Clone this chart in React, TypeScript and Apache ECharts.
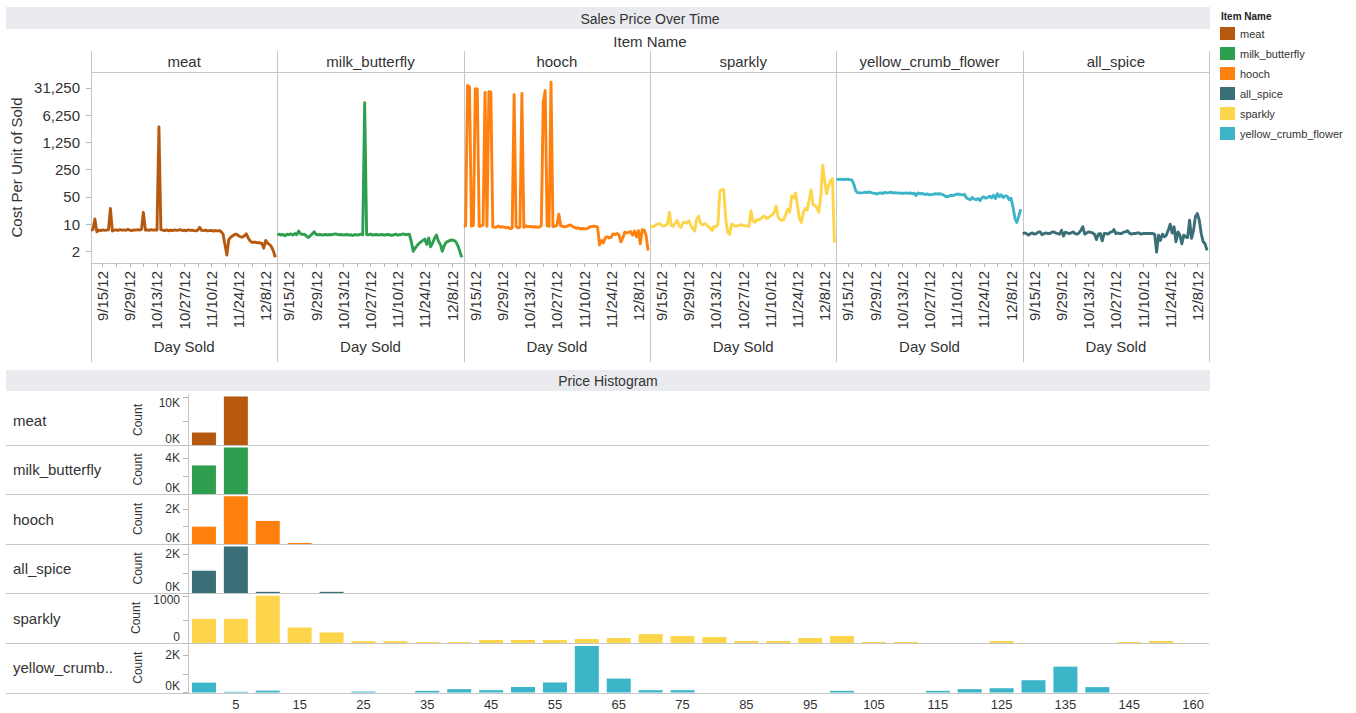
import React, { useEffect, useRef } from "react";
import * as echarts from "echarts";

// ---------------- data ----------------
const FACET_ITEMS = ["meat", "milk_butterfly", "hooch", "sparkly", "yellow_crumb_flower", "all_spice"];
const LEGEND_ITEMS = ["meat", "milk_butterfly", "hooch", "all_spice", "sparkly", "yellow_crumb_flower"];
const HIST_ITEMS = ["meat", "milk_butterfly", "hooch", "all_spice", "sparkly", "yellow_crumb_flower"];
const HIST_ROW_LABELS = ["meat", "milk_butterfly", "hooch", "all_spice", "sparkly", "yellow_crumb.."];

const COLORS: Record<string, string> = {
  meat: "#b6590f",
  milk_butterfly: "#2d9f4e",
  hooch: "#ff800e",
  all_spice: "#3b6f78",
  sparkly: "#fdd54b",
  yellow_crumb_flower: "#3cb5c9",
};

// daily values, first day 9/9/12, one value per day
const FIRST_DAY = "9/9/12";
const AXIS_FROM = "9/9/12";
const AXIS_TO = "12/14/12";

const meat = [
  7.0, 7.2, 13.5, 6.3, 7.0, 6.8, 7.1, 6.9, 7.0, 7.1,
  25, 6.6, 7.0, 7.1, 6.9, 7.2, 7.0, 7.1, 6.9, 7.3,
  7.0, 6.8, 7.1, 7.0, 7.2, 7.0, 7.3, 20, 7.0, 7.1,
  6.9, 7.2, 7.0, 7.1, 7.0, 3100, 7.2, 7.0, 6.8, 7.1,
  6.7, 7.0, 6.8, 7.1, 6.9, 7.0, 7.2, 6.8, 7.0, 6.7,
  7.1, 6.9, 7.0, 6.8, 6.7, 7.0, 8.2, 6.9, 6.8, 7.0,
  6.7, 6.8, 6.9, 6.6, 6.8, 6.7, 6.8, 6.4, 5.6, 3.0,
  1.6, 4.0, 4.6, 5.0, 5.4, 5.5, 5.0, 4.7, 4.6, 5.0,
  5.6, 4.4, 3.7, 3.4, 3.4, 3.4, 3.3, 3.3, 3.2, 2.4,
  3.8, 3.2, 3.0, 2.6, 2.0, 1.4,
];

const milkButterfly = [
  5.3, 5.5, 5.2, 5.4, 5.0, 5.5, 5.3, 5.6, 5.2, 5.7,
  5.3, 6.6, 5.6, 5.4, 5.5, 4.9, 4.5, 5.0, 5.6, 6.3,
  5.4, 5.3, 5.4, 5.2, 5.3, 5.4, 5.2, 5.4, 5.3, 5.5,
  5.6, 5.4, 5.3, 5.4, 5.2, 5.3, 5.4, 5.2, 5.3, 5.1,
  5.4, 5.2, 5.3, 5.5, 5.3, 13000, 5.4, 5.3, 5.5, 5.2,
  5.3, 5.4, 5.2, 5.3, 5.4, 5.2, 5.3, 5.4, 5.3, 5.1,
  5.3, 5.5, 5.2, 5.3, 5.4, 5.6, 5.3, 5.4, 5.5, 3.6,
  2.0, 2.4, 2.8, 3.2, 3.5, 3.8, 4.1, 3.0, 4.4, 2.6,
  3.3, 4.3, 5.2, 3.6, 3.0, 2.0, 2.8, 3.4, 3.6, 3.8,
  3.9, 3.8, 3.5, 2.8, 2.0, 1.4,
];

const hooch = [
  8.8, 9.0, 36000, 33000, 8.8, 9.2, 30000, 29000, 8.7, 9.0,
  9.5, 24000, 8.7, 25000, 24500, 8.5, 8.2, 8.4, 8.9, 8.3,
  8.5, 8.3, 8.0, 8.2, 7.6, 7.9, 21000, 8.6, 8.0, 8.4,
  22500, 8.2, 9.0, 8.6, 8.7, 8.5, 8.4, 8.5, 8.3, 8.4,
  9.0, 13500, 27000, 9.0, 8.7, 44000, 8.6, 8.8, 9.2, 18,
  9.0, 8.8, 8.5, 8.7, 9.2, 9.5, 8.8, 8.2, 7.8, 8.0,
  7.5, 7.7, 7.6, 7.5, 7.8, 8.5, 8.6, 8.8, 8.7, 8.3,
  2.9, 3.8, 3.3, 4.5, 4.7, 4.4, 4.6, 5.6, 5.4, 5.7,
  5.3, 3.5, 4.4, 6.2, 5.9, 6.1, 6.4, 5.2, 6.6, 4.7,
  6.8, 3.1, 7.2, 7.0, 5.0, 2.1,
];

const sparkly = [
  8.8, 8.5, 8.7, 9.6, 9.9, 10.2, 9.3, 8.8, 9.4, 10.0,
  20, 9.0, 8.8, 10.5, 12.5, 9.0, 8.2, 10.8, 11.0, 10.6,
  12.2, 9.2, 7.6, 6.6, 13, 16, 10.5, 9.5, 10.2, 9.8,
  8.6, 7.8, 6.8, 8.8, 8.5, 9.8, 70, 77, 76, 14,
  6.2, 5.4, 10, 9.2, 8.8, 9.0, 9.3, 9.6, 9.3, 9.0,
  8.9, 8.8, 22, 12, 11, 13, 12.8, 13.6, 15, 16,
  14, 14.5, 16, 17.5, 20, 29, 15, 13, 12.4, 13,
  18, 24, 20, 53, 47, 63, 30, 13.6, 11, 20,
  25, 23, 42, 75, 31, 30, 26, 20, 55, 320,
  130, 60, 95, 130, 145, 3.3,
];

const yellowCrumbFlower = [
  140, 140, 141, 140, 139, 140, 141, 138, 136, 105,
  72, 64, 63, 63, 64, 66, 64, 67, 64, 62,
  61, 59, 62, 63, 61, 65, 63, 64, 66, 63,
  64, 63, 62, 63, 61, 62, 63, 61, 63, 60,
  62, 54, 63, 60, 61, 59, 58, 59, 56, 57,
  58, 60, 59, 60, 59, 57, 52, 50, 52, 55,
  54, 56, 58, 59, 57, 56, 58, 47, 44, 42,
  48, 44, 42, 45, 40, 47, 50, 46, 48, 52,
  47, 55, 45, 60, 50, 56, 48, 53, 52, 42,
  46, 28, 14, 11, 16, 24,
];

const allSpice = [
  5.7, 5.9, 5.7, 5.2, 5.7, 5.9, 5.5, 5.7, 6.2, 6.3,
  5.3, 5.7, 5.9, 5.7, 5.7, 6.2, 6.3, 5.9, 5.7, 5.5,
  6.9, 4.9, 6.2, 5.9, 5.7, 5.9, 6.3, 5.7, 5.5, 5.9,
  6.9, 8.5, 5.5, 5.9, 6.3, 6.1, 5.9, 5.5, 4.0, 5.5,
  5.7, 3.7, 5.7, 5.7, 5.5, 6.1, 6.3, 7.2, 5.7, 5.9,
  5.7, 5.7, 6.2, 6.3, 6.7, 5.9, 5.5, 5.7, 5.7, 5.9,
  5.9, 5.5, 5.7, 5.7, 5.7, 5.7, 5.7, 5.7, 5.5, 1.9,
  5.2, 3.8, 5.5, 4.7, 5.2, 6.9, 9.9, 5.9, 8.5, 3.5,
  6.3, 5.2, 3.1, 5.2, 4.7, 4.5, 12.5, 4.3, 6.7, 15.3,
  18.6, 12.5, 5.7, 3.5, 3.1, 2.1,
];

const FACET_VALUES: Record<string, number[]> = {
  meat,
  milk_butterfly: milkButterfly,
  hooch,
  sparkly,
  yellow_crumb_flower: yellowCrumbFlower,
  all_spice: allSpice,
};

const Y_TICKS = [2, 10, 50, 250, 1250, 6250, 31250];
const DATE_LABELS = ["9/15/12", "9/29/12", "10/13/12", "10/27/12", "11/10/12", "11/24/12", "12/8/12"];
const DATE_TICKS = [
  "9/15/12", "9/22/12", "9/29/12", "10/6/12", "10/13/12", "10/20/12", "10/27/12",
  "11/3/12", "11/10/12", "11/17/12", "11/24/12", "12/1/12", "12/8/12",
];

// histogram: price bins of width 5 (bin 155 is empty everywhere, so Tableau omits it)
const PRICE_BINS = [
  "0", "5", "10", "15", "20", "25", "30", "35", "40", "45",
  "50", "55", "60", "65", "70", "75", "80", "85", "90", "95",
  "100", "105", "110", "115", "120", "125", "130", "135", "140", "145",
  "150", "160",
];

const histMeat = [
  2600, 10100, 0, 0, 0, 0, 0, 0, 0, 0,
  0, 0, 0, 0, 0, 0, 0, 0, 0, 0,
  0, 0, 0, 0, 0, 0, 0, 0, 0, 0,
  0, 0,
];
const histMilkButterfly = [
  3200, 5200, 0, 0, 0, 0, 0, 0, 0, 0,
  0, 0, 0, 0, 0, 0, 0, 0, 0, 0,
  0, 0, 0, 0, 0, 0, 0, 0, 0, 0,
  0, 0,
];
const histHooch = [
  1000, 2750, 1330, 60, 0, 0, 0, 0, 0, 0,
  0, 0, 0, 0, 0, 0, 0, 0, 0, 0,
  0, 0, 0, 0, 0, 0, 0, 0, 0, 0,
  0, 0,
];
const histAllSpice = [
  1150, 2400, 60, 0, 60, 0, 0, 0, 0, 0,
  0, 0, 0, 0, 0, 0, 0, 0, 0, 0,
  0, 0, 0, 0, 0, 0, 0, 0, 0, 0,
  0, 0,
];
const histSparkly = [
  520, 520, 1020, 335, 228, 40, 40, 20, 20, 64,
  64, 64, 86, 107, 193, 150, 129, 43, 43, 107,
  150, 21, 21, 0, 0, 43, 0, 0, 0, 21,
  43, 0,
];
const histYellowCrumbFlower = [
  530, 40, 100, 0, 0, 50, 0, 90, 180, 125,
  290, 540, 2500, 750, 125, 125, 0, 0, 0, 0,
  90, 0, 0, 90, 180, 230, 660, 1390, 290, 0,
  0, 0,
];

const HIST_VALUES: Record<string, number[]> = {
  meat: histMeat,
  milk_butterfly: histMilkButterfly,
  hooch: histHooch,
  all_spice: histAllSpice,
  sparkly: histSparkly,
  yellow_crumb_flower: histYellowCrumbFlower,
};

// count axis per row: max, tick step, K-format
const HIST_AXIS_MAX = [10417, 5490, 2880, 2530, 1080, 2660];
const HIST_TICK_STEP = [5000, 2000, 1000, 1000, 500, 1000];
const HIST_K_FORMAT = [true, true, true, true, false, true];
const HIST_TOP_LABEL_SHIFT = [12, 0, 0, 0, 7, 0];

// ---------------- layout ----------------
const PANEL_LEFT = 91;
const PANEL_RIGHT = 1209;
const PANEL_TOP = 72;
const PANEL_BOTTOM = 263;
const HIST_LEFT = 188;
const HIST_ROW_EDGES = [395, 445, 494, 544, 593, 643, 692.5];

const FONT = "'Liberation Sans', Arial, Helvetica, sans-serif";
const TEXT = "#333333";
const RULE = "#c6c6c6";
const HEADER_FILL = "#eaebee";

function parseDate(s: string): number {
  const [m, d, y] = s.split("/").map(Number);
  return new Date(2000 + y, m - 1, d).getTime();
}
function dayTime(first: string, offset: number): number {
  const [m, d, y] = first.split("/").map(Number);
  return new Date(2000 + y, m - 1, d + offset).getTime();
}
function fmtDate(v: number): string {
  const d = new Date(v);
  return `${d.getMonth() + 1}/${d.getDate()}/${String(d.getFullYear()).slice(2)}`;
}

function txt(text: string, x: number, y: number, extra: any = {}) {
  const align = extra.align || "center";
  return {
    type: "text",
    x,
    y,
    silent: true,
    style: {
      text,
      fill: TEXT,
      fontSize: 15,
      fontFamily: FONT,
      ...extra,
      align,
      textAlign: align,
      verticalAlign: "middle",
      textVerticalAlign: "middle",
    },
  };
}
function rule(x1: number, y1: number, x2: number, y2: number) {
  return {
    type: "line",
    silent: true,
    shape: { x1, y1, x2, y2 },
    style: { stroke: RULE, lineWidth: 1 },
  };
}

function buildOption() {
  const grid: any[] = [];
  const xAxis: any[] = [];
  const yAxis: any[] = [];
  const barSeries: any[] = [];
  const lineSeries: any[] = [];
  const pw = (PANEL_RIGHT - PANEL_LEFT) / FACET_ITEMS.length;

  // ---- line facets ----
  FACET_ITEMS.forEach((name, i) => {
    const gi = grid.length;
    grid.push({ left: PANEL_LEFT + i * pw, top: PANEL_TOP, width: pw, height: PANEL_BOTTOM - PANEL_TOP });
    xAxis.push({
      type: "value",
      gridIndex: gi,
      min: parseDate(AXIS_FROM),
      max: parseDate(AXIS_TO),
      axisLine: { show: true, lineStyle: { color: RULE } },
      axisTick: { show: true, customValues: DATE_TICKS.map(parseDate), length: 4, lineStyle: { color: "#b5b5b5" } },
      axisLabel: {
        customValues: DATE_LABELS.map(parseDate),
        rotate: 90,
        fontSize: 15,
        color: TEXT,
        fontFamily: FONT,
        margin: 8,
        formatter: (v: number) => fmtDate(v),
      },
      splitLine: { show: false },
      name: "Day Sold",
      nameLocation: "middle",
      nameGap: 76,
      nameTextStyle: { fontSize: 15, color: TEXT, fontFamily: FONT },
    });
    yAxis.push({
      type: "log",
      logBase: 5,
      gridIndex: gi,
      min: 1,
      max: 80000,
      axisLine: { show: false },
      axisTick: { show: i === 0, customValues: Y_TICKS, length: 5, lineStyle: { color: "#b5b5b5" } },
      axisLabel: {
        show: i === 0,
        customValues: Y_TICKS,
        fontSize: 15,
        color: TEXT,
        fontFamily: FONT,
        margin: 11,
        formatter: (v: number) => Math.round(v).toLocaleString("en-US"),
      },
      splitLine: { show: false },
      minorSplitLine: { show: false },
      name: i === 0 ? "Cost Per Unit of Sold" : "",
      nameLocation: "middle",
      nameGap: 67,
      nameTextStyle: { fontSize: 15, color: TEXT, fontFamily: FONT },
    });
    const vals = FACET_VALUES[name];
    lineSeries.push({
      type: "line",
      name,
      xAxisIndex: gi,
      yAxisIndex: gi,
      data: vals.map((v, d) => [dayTime(FIRST_DAY, d), v]),
      showSymbol: false,
      silent: true,
      lineStyle: { width: 2.9, color: COLORS[name], join: "round" },
      itemStyle: { color: COLORS[name] },
    });
  });

  // ---- histogram rows ----
  HIST_ITEMS.forEach((name, i) => {
    const gi = grid.length;
    const top = HIST_ROW_EDGES[i];
    const bottom = HIST_ROW_EDGES[i + 1];
    const isLast = i === HIST_ITEMS.length - 1;
    const step = HIST_TICK_STEP[i];
    const kfmt = HIST_K_FORMAT[i];
    const topShift = HIST_TOP_LABEL_SHIFT[i];
    grid.push({ left: HIST_LEFT, top, width: PANEL_RIGHT - HIST_LEFT, height: bottom - top });
    xAxis.push({
      type: "category",
      gridIndex: gi,
      data: PRICE_BINS,
      axisLine: { show: false },
      axisTick: { show: false },
      axisLabel: {
        show: isLast,
        interval: (index: number) => index % 2 === 1,
        fontSize: 13,
        color: TEXT,
        fontFamily: FONT,
        margin: 5,
      },
      splitLine: { show: false },
    });
    yAxis.push({
      type: "value",
      gridIndex: gi,
      min: 0,
      max: HIST_AXIS_MAX[i],
      axisLine: { show: true, lineStyle: { color: RULE } },
      axisTick: { show: true, customValues: [0, step, 2 * step], length: 5, lineStyle: { color: "#b5b5b5" } },
      axisLabel: {
        customValues: [0, 2 * step],
        fontSize: 12,
        color: TEXT,
        fontFamily: FONT,
        margin: 8,
        formatter: (v: number) => {
          const s = kfmt ? `${Math.round(v / 1000)}K` : `${Math.round(v)}`;
          if (v === 0) return `{lo|${s}}`;
          if (topShift) return `{hi|${s}}`;
          return s;
        },
        rich: {
          lo: { fontSize: 12, color: TEXT, fontFamily: FONT, padding: [0, 0, 13, 0] },
          hi: { fontSize: 12, color: TEXT, fontFamily: FONT, padding: [topShift, 0, 0, 0] },
        },
      },
      splitLine: { show: false },
      name: "Count",
      nameLocation: "middle",
      nameRotate: 90,
      nameGap: 44,
      nameTextStyle: { fontSize: 12, color: TEXT, fontFamily: FONT },
    });
    barSeries.push({
      type: "bar",
      name,
      xAxisIndex: gi,
      yAxisIndex: gi,
      data: HIST_VALUES[name],
      barWidth: 24,
      silent: true,
      itemStyle: { color: COLORS[name] },
    });
  });

  // ---- decorations ----
  const graphic: any[] = [];
  graphic.push({ type: "rect", silent: true, shape: { x: 6, y: 7, width: 1204, height: 22 }, style: { fill: HEADER_FILL } });
  graphic.push(txt("Sales Price Over Time", 650, 18.5, { fontSize: 14 }));
  graphic.push(txt("Item Name", 650, 41));
  FACET_ITEMS.forEach((name, i) => {
    graphic.push(txt(name, PANEL_LEFT + (i + 0.5) * pw, 61));
  });
  graphic.push(rule(PANEL_LEFT, PANEL_TOP + 0.5, PANEL_RIGHT, PANEL_TOP + 0.5));
  for (let i = 0; i <= FACET_ITEMS.length; i++) {
    const x = Math.round(PANEL_LEFT + i * pw) + 0.5;
    graphic.push(rule(x, 51, x, 362));
  }
  graphic.push({ type: "rect", silent: true, shape: { x: 6, y: 370, width: 1204, height: 21 }, style: { fill: HEADER_FILL } });
  graphic.push(txt("Price Histogram", 608, 381, { fontSize: 14 }));
  HIST_ROW_LABELS.forEach((label, i) => {
    graphic.push(txt(label, 13, (HIST_ROW_EDGES[i] + HIST_ROW_EDGES[i + 1]) / 2, { align: "left" }));
  });
  for (let i = 1; i < HIST_ROW_EDGES.length; i++) {
    const y = Math.round(HIST_ROW_EDGES[i]) + 0.5;
    graphic.push(rule(6, y, PANEL_RIGHT, y));
  }
  graphic.push(txt("Item Name", 1221, 16, { align: "left", fontSize: 10, fontWeight: "bold", fill: "#222" }));

  return {
    animation: false,
    backgroundColor: "#ffffff",
    textStyle: { fontFamily: FONT, color: TEXT },
    legend: {
      data: LEGEND_ITEMS.map((n) => ({ name: n, icon: "rect", itemStyle: { color: COLORS[n] } })),
      orient: "vertical",
      left: 1215,
      top: 22,
      itemWidth: 15,
      itemHeight: 13,
      itemGap: 7,
      selectedMode: false,
      textStyle: { fontSize: 11, color: TEXT, fontFamily: FONT },
    },
    grid,
    xAxis,
    yAxis,
    series: [...barSeries, ...lineSeries],
    graphic,
  };
}

export default function App() {
  const ref = useRef<HTMLDivElement>(null);
  useEffect(() => {
    if (!ref.current) return;
    const chart = echarts.init(ref.current, undefined, { renderer: "svg" });
    chart.setOption(buildOption() as any);
    return () => chart.dispose();
  }, []);
  return (
    <div
      ref={ref}
      style={{ position: "fixed", left: 0, top: 0, width: 1356, height: 713, background: "#ffffff" }}
    />
  );
}
